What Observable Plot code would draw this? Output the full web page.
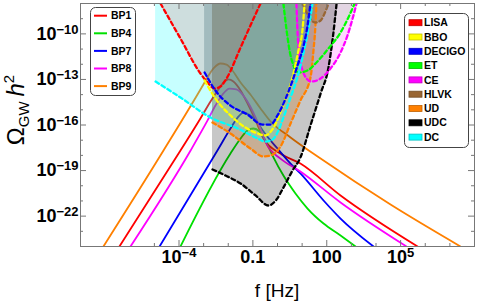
<!DOCTYPE html>
<html><head><meta charset="utf-8">
<script src="https://cdn.jsdelivr.net/npm/d3@7"></script>
<script src="https://cdn.jsdelivr.net/npm/@observablehq/plot@0.6"></script>
<style>body{margin:0;background:#fff;}</style>
</head><body><div id="chart"></div>
<script>
// ---- data: [log10(f / Hz), log10(Omega_GW h^2)] ----
const bp1 = [[-6.42,-24],[-3.94,-17.68],[-3.13,-15.57],[-2.72,-14.45],[-2.40,-13.66],[-2.19,-13.20],[-1.99,-13.00],[-1.79,-13.14],[-1.50,-13.73],[-1.22,-14.58],[-0.89,-15.70],[-0.57,-16.89],[0.12,-17.88],[0.93,-18.54],[2.56,-20.64],[5.69,-24]];
const bp4 = [[-3.94,-24],[-1.91,-17.88],[-1.50,-16.89],[-1.22,-16.36],[-0.98,-16.23],[-0.73,-16.43],[-0.49,-17.02],[-0.20,-18.01],[0.24,-19.33],[0.73,-20.51],[1.22,-21.50],[1.87,-22.49],[2.56,-23.28],[3.17,-24]];
const bp7 = [[-4.79,-24],[-2.44,-17.68],[-1.91,-16.23],[-1.62,-15.51],[-1.38,-15.18],[-1.10,-15.37],[-0.81,-15.84],[-0.57,-16.43],[0.00,-17.55],[0.53,-18.54],[0.93,-19.19],[1.87,-20.97],[2.56,-22.16],[3.90,-24]];
const bp8 = [[-5.97,-24],[-3.53,-17.68],[-2.84,-15.70],[-2.52,-14.72],[-2.23,-13.99],[-1.95,-13.60],[-1.67,-13.66],[-1.30,-14.26],[-1.02,-15.05],[-0.73,-16.10],[-0.41,-17.35],[0.12,-18.21],[0.93,-19.06],[2.56,-21.10],[5.24,-24]];
const bp9 = [[-7.07,-24],[-4.63,-17.68],[-3.01,-13.33],[-2.80,-12.74],[-2.56,-12.21],[-2.32,-11.95],[-2.07,-12.02],[-1.83,-12.41],[-1.50,-13.20],[-1.10,-13.99],[-0.69,-14.91],[-0.28,-15.77],[0.53,-16.82],[1.75,-18.21],[4.59,-21.24],[7.43,-24]];

const lisa   = [[-4.75,-8],[-3.94,-10.31],[-3.13,-12.61],[-2.84,-13.20],[-2.56,-13.60],[-2.32,-13.47],[-2.07,-12.94],[-1.50,-10.90],[-1.10,-9.45],[-0.69,-8]];
const bbo    = [[-2.96,-13.07],[-2.52,-14.26],[-1.91,-15.37],[-1.30,-16.17],[-0.81,-16.56],[-0.49,-16.69],[-0.16,-16.17],[0.24,-14.65],[0.61,-12.87],[0.85,-11.10],[1.02,-9.65],[1.10,-8]];
const decigo = [[-2.96,-12.54],[-2.52,-13.73],[-1.91,-14.72],[-1.22,-15.31],[-0.61,-15.97],[-0.28,-15.97],[0.00,-15.37],[0.33,-14.26],[0.61,-13.07],[0.85,-11.89],[1.06,-10.77],[1.22,-9.45],[1.34,-8]];
const et     = [[0.24,-8],[0.37,-9.78],[0.49,-11.10],[0.65,-12.08],[0.85,-12.54],[1.22,-12.41],[1.62,-11.82],[2.07,-10.96],[2.56,-9.91],[2.88,-8.92],[3.13,-8]];
const ce     = [[0.77,-8],[0.81,-9.78],[0.89,-11.42],[1.02,-12.41],[1.18,-12.94],[1.38,-13.14],[1.75,-12.94],[2.15,-12.28],[2.56,-11.23],[2.84,-10.11],[3.05,-8.99],[3.21,-8]];
const hlvk   = [[1.02,-8],[1.18,-8.59],[1.34,-9.05],[1.54,-9.25],[1.75,-9.12],[1.91,-8.66],[2.07,-8]];
const ud     = [[-2.64,-15.84],[-1.91,-16.56],[-1.10,-17.55],[-0.57,-18.07],[-0.28,-18.01],[0.12,-17.42],[0.53,-15.90],[0.93,-14.39],[1.34,-12.87],[1.46,-11.10],[1.54,-9.45],[1.58,-8]];
const udc    = [[-2.64,-18.93],[-2.11,-19.33],[-1.50,-19.85],[-0.89,-20.64],[-0.37,-21.30],[-0.04,-20.91],[0.24,-20.12],[0.61,-19.00],[0.93,-18.14],[1.34,-16.03],[1.75,-13.93],[2.07,-12.21],[2.25,-10.20],[2.40,-8]];
const dc     = [[-4.95,-13.14],[-3.94,-14.19],[-2.72,-15.51],[-1.62,-16.23],[-0.89,-16.82],[-0.49,-17.09],[-0.20,-16.96],[0.04,-16.36],[0.24,-15.51],[0.53,-14.19],[0.81,-12.87],[1.06,-11.23],[1.26,-9.65],[1.42,-8]];

const bpNames  = ["BP1","BP4","BP7","BP8","BP9"];
const bpColors = ["#ff0000","#00e000","#0000ff","#ff00ff","#ff8000"];
const detNames  = ["LISA","BBO","DECIGO","ET","CE","HLVK","UD","UDC","DC"];
const detColors = ["#ff0000","#ffff00","#0000ff","#00ff00","#ff00ff","#996633","#ff8000","#000000","#00ffff"];

const xTickExp = [-5,-4,-3,-2,-1,0,1,2,3,4,5,6,7];
const xLabelExp = [-4,-1,2,5];
const xLabelText = ["10^\u22124","0.1","100","10^5"];
const yTickExp = [-23,-22,-21,-20,-19,-18,-17,-16,-15,-14,-13,-12,-11,-10,-9];
const yLabelExp = [-22,-19,-16,-13,-10];
const yLabelText = ["10^\u221222","10^\u221219","10^\u221216","10^\u221213","10^\u221210"];

// ---- build ----
const toPts = a => a.map(([lf, lo]) => ({f: 10 ** lf, o: 10 ** lo}));
const TOP = 1e-8;
const bpData = [bp1, bp4, bp7, bp8, bp9];
const detData = {LISA: lisa, BBO: bbo, DECIGO: decigo, ET: et, CE: ce, HLVK: hlvk, UD: ud, UDC: udc, DC: dc};
// region fills: [name, fill colour, opacity]
const fillOrder = [["UD","#ff8000",0.25],["UDC","#000000",0.22],["DC","#00ffff",0.22],["LISA","#ff0000",0.13],["BBO","#ffff00",0.12],["DECIGO","#2f5fb4",0.3],["ET","#00ff00",0.13],["CE","#ff00ff",0.16],["HLVK","#996633",0.4]];
const lineOrder = ["UDC","UD","HLVK","CE","ET","LISA","DC","BBO","DECIGO"];
const colorOf = n => detColors[detNames.indexOf(n)];

const marks = [];
bpData.forEach((d, i) => marks.push(Plot.line(toPts(d), {x: "f", y: "o", stroke: bpColors[i], strokeWidth: 1.8, curve: "monotone-x", clip: true})));
fillOrder.forEach(([n, c, op]) => marks.push(Plot.areaY(toPts(detData[n]), {x: "f", y1: "o", y2: () => TOP, fill: c, fillOpacity: op, curve: "monotone-x", clip: true})));
lineOrder.forEach(n => marks.push(Plot.line(toPts(detData[n]), {x: "f", y: "o", stroke: colorOf(n), strokeWidth: 2.3, strokeDasharray: "4,3", curve: "monotone-x", clip: true})));

const H = 243, W = 394;
const isMajX = e => xLabelExp.includes(e), isMajY = e => yLabelExp.includes(e);
const xMaj = xTickExp.filter(isMajX).map(e => 10 ** e), xMin = xTickExp.filter(e => !isMajX(e)).map(e => 10 ** e);
const yMaj = yTickExp.filter(isMajY).map(e => 10 ** e), yMin = yTickExp.filter(e => !isMajY(e)).map(e => 10 ** e);
marks.push(
  Plot.ruleX(xMaj, {insetTop: H - 6, stroke: "#777"}),
  Plot.ruleX(xMin, {insetTop: H - 3, stroke: "#777"}),
  Plot.ruleX(xMaj, {insetBottom: H - 6, stroke: "#777"}),
  Plot.ruleX(xMin, {insetBottom: H - 3, stroke: "#777"}),
  Plot.ruleY(yMaj, {insetRight: W - 6, stroke: "#777"}),
  Plot.ruleY(yMin, {insetRight: W - 3, stroke: "#777"}),
  Plot.ruleY(yMaj, {insetLeft: W - 6, stroke: "#777"}),
  Plot.ruleY(yMin, {insetLeft: W - 3, stroke: "#777"}),
  Plot.frame({stroke: "#777", strokeWidth: 1}),
  Plot.text(xLabelExp, {x: e => 10 ** e, text: (e, i) => xLabelText[i], frameAnchor: "bottom", dy: 16, fontSize: 18, fontWeight: "bold"}),
  Plot.text(yLabelExp, {y: e => 10 ** e, text: (e, i) => yLabelText[i], frameAnchor: "left", dx: -2, textAnchor: "end", fontSize: 18, fontWeight: "bold"})
);

const svg = Plot.plot({
  width: 478, height: 307,
  marginLeft: 80, marginRight: 4, marginTop: 3, marginBottom: 61,
  x: {type: "log", domain: [1e-8, 1e8], axis: null},
  y: {type: "log", domain: [1e-24, 1e-8], axis: null},
  style: {fontFamily: "'Liberation Sans', Arial, sans-serif", background: "#fff"},
  marks
});
document.getElementById("chart").appendChild(svg);

// superscripts on tick labels
const NS = "http://www.w3.org/2000/svg";
svg.querySelectorAll("text").forEach(t => {
  const s = t.textContent, i = s.indexOf("^");
  if (i < 0) return;
  while (t.firstChild) t.removeChild(t.firstChild);
  t.appendChild(document.createTextNode(s.slice(0, i)));
  const ts = document.createElementNS(NS, "tspan");
  ts.setAttribute("dy", "-0.45em"); ts.setAttribute("font-size", "13");
  ts.textContent = s.slice(i + 1);
  t.appendChild(ts);
});

const s = d3.select(svg);
const ff = "'Liberation Sans', Arial, sans-serif";
// axis titles
s.append("text").attr("x", 277).attr("y", 297).attr("text-anchor", "middle").attr("font-size", 19).attr("font-family", ff).text("f [Hz]");
const yl = s.append("text").attr("transform", "translate(24,110) rotate(-90)").attr("text-anchor", "middle").attr("font-size", 24).attr("font-family", ff);
yl.append("tspan").text("\u03A9");
yl.append("tspan").attr("font-size", 15).attr("dy", 5).text("GW");
yl.append("tspan").attr("dy", -5).attr("font-style", "italic").text("\u2009h");
yl.append("tspan").attr("font-size", 15).attr("dy", -10).text("2");

// legend 1 (benchmark points)
const g1 = s.append("g").attr("font-family", ff).attr("font-size", 10.5).attr("font-weight", "bold").attr("text-anchor", "start");
g1.append("rect").attr("x", 90.5).attr("y", 7.5).attr("width", 45).attr("height", 88).attr("rx", 5).attr("fill", "#fff").attr("stroke", "#444");
bpNames.forEach((n, i) => {
  const y = 15.7 + i * 17.6;
  g1.append("line").attr("x1", 94).attr("x2", 107).attr("y1", y).attr("y2", y).attr("stroke", bpColors[i]).attr("stroke-width", 2);
  g1.append("text").attr("x", 111).attr("y", y).attr("dy", "0.35em").text(n);
});
// legend 2 (detectors)
const g2 = s.append("g").attr("font-family", ff).attr("font-size", 10.5).attr("font-weight", "bold").attr("text-anchor", "start");
g2.append("rect").attr("x", 404.5).attr("y", 13.5).attr("width", 64).attr("height", 134).attr("rx", 5).attr("fill", "#fff").attr("stroke", "#444");
detNames.forEach((n, i) => {
  const y = 22.7 + i * 14.3;
  g2.append("rect").attr("x", 409).attr("y", y - 3).attr("width", 13).attr("height", 6).attr("fill", detColors[i]).attr("stroke", d3.color(detColors[i]).darker(0.8)).attr("stroke-width", 0.8);
  g2.append("text").attr("x", 424).attr("y", y).attr("dy", "0.35em").text(n);
});
</script>
</body></html>
